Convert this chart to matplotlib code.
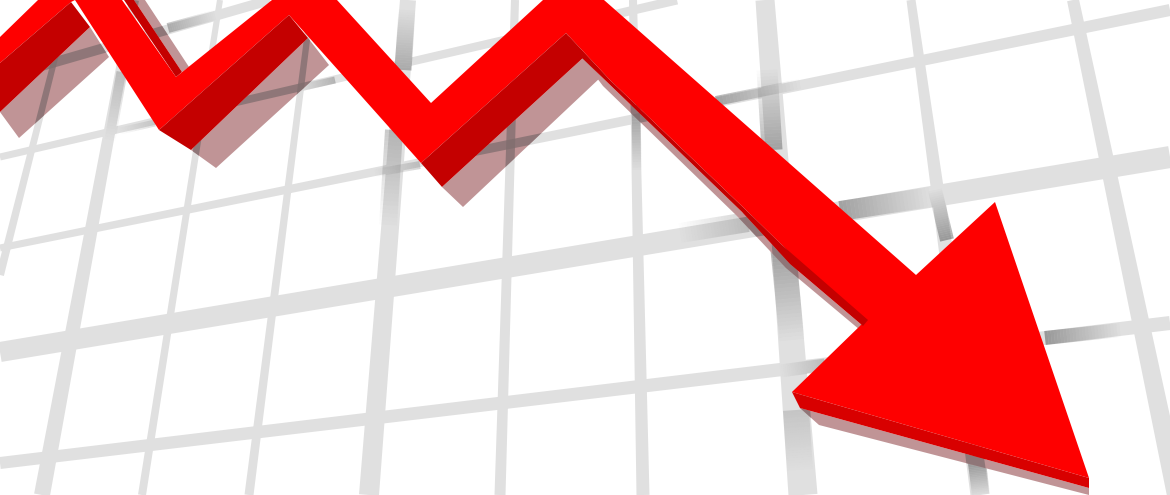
# -*- coding: utf-8 -*-
"""Red zigzag arrow falling across a grey grid seen in perspective."""
import numpy as np
import matplotlib
matplotlib.use("Agg")
import matplotlib.pyplot as plt
from matplotlib.patches import Polygon

W, H = 1170, 495

# grid bars: start x, start y, end x, end y, start width, end width
VERT_X0 = [57, 134, 220, 312, 408, 515, 633, 765, 911, 1073]
VERT_Y0 = [50, 0, 0, 0, 0, 0, 0, 0, 0, 0]
VERT_X1 = [0, 42, 142, 249, 369, 500, 643, 803, 980, 1177]
VERT_Y1 = [275, 495, 495, 495, 495, 495, 495, 495, 495, 495]
VERT_W0 = [6, 10, 6, 6, 16, 8, 8, 19, 9, 12]
VERT_W1 = [8, 16, 8, 9, 20, 11, 13, 29, 19, 20]

HORZ_X0 = [0, 0, 0, 0, 0]
HORZ_Y0 = [78, 157, 248, 352, 463]
HORZ_X1 = [270, 677, 1170, 1170, 1170]
HORZ_Y1 = [0, 0, 10, 157, 323]
HORZ_W0 = [10, 7, 7, 20, 12]
HORZ_W1 = [10, 9, 12, 22, 14]

# soft shade on the bars beside the arrow, dark end first
SHADE_X0 = [716, 772, 783, 840, 748, 947, 976, 1045, 825, 796, 636, 403, 394, 420, 335, 155, 168, 122]
SHADE_Y0 = [101, 150, 250, 211, 222, 240, 455, 338, 365, 410, 105, 70, 130, 165, 80, 123, 28, 72]
SHADE_X1 = [800, 767, 792, 930, 680, 935, 981, 1120, 780, 800, 637, 407, 388, 375, 300, 120, 215, 110]
SHADE_Y1 = [84, 70, 340, 197, 233, 190, 495, 330, 371, 470, 170, 10, 225, 173, 88, 131, 15, 140]
SHADE_W = [10, 21, 25, 20, 20, 14, 18, 14, 13, 26, 9, 17, 18, 8, 7, 7, 10, 11]
SHADE_A = [.35, .35, .35, .35, .2, .4, .5, .4, .2, .15, .4, .3, .25, .2, .25, .15, .3, .2]

# arrow outlines
TOP_X = [0, 38, 122, 176, 272, 337, 431, 543, 604, 916, 995, 1089, 792, 863,
         782, 746, 610, 566, 421, 289, 159, 75, 71, 0]
TOP_Y = [37, 0, 0, 77, 0, 0, 103, 0, 0, 275, 202, 478, 392, 323,
         245, 210, 80, 33, 163, 15, 130, 0, 2, 63]

SIDE_XS = [
    [0, 71, 90, 0],
    [124, 134, 182, 176],
    [159, 191, 308, 289],
    [421, 442, 584, 566],
    [566, 610, 746, 782, 868, 863, 790, 742, 607, 581],
]
SIDE_YS = [
    [63, 2, 27, 112],
    [0, 0, 72, 77],
    [130, 150, 38, 15],
    [163, 187, 57, 33],
    [33, 80, 210, 245, 320, 326, 264, 212, 82, 57],
]
HEAD_SIDE_X = [792, 800, 1089, 1089]
HEAD_SIDE_Y = [392, 408, 488, 478]

SHADOW_XS = [
    [0, 19, 109, 90],
    [134, 145, 189, 182],
    [191, 216, 329, 308],
    [442, 463, 601, 584],
    [581, 607, 742, 790, 863, 860, 786, 737, 603],
    [800, 819, 1089, 1089],
]
SHADOW_YS = [
    [112, 138, 57, 27],
    [0, 0, 67, 72],
    [150, 168, 65, 38],
    [187, 207, 77, 57],
    [57, 82, 212, 264, 326, 330, 268, 216, 86],
    [408, 425, 495, 488],
]

GRID_GREY = "#e0e0e0"
SHADOW_LINE = "#7f6d6e"


def bar_xy(x0, y0, x1, y1, w0, w1):
    # quad around a line that widens from w0 to w1
    d = np.array([x1 - x0, y1 - y0], dtype=float)
    n = np.array([-d[1], d[0]]) / np.hypot(*d)
    a, b = np.array([x0, y0]), np.array([x1, y1])
    return [a + n * w0 / 2, b + n * w1 / 2, b - n * w1 / 2, a - n * w0 / 2]


def all_bars():
    bars = list(zip(HORZ_X0, HORZ_Y0, HORZ_X1, HORZ_Y1, HORZ_W0, HORZ_W1))
    bars += list(zip(VERT_X0, VERT_Y0, VERT_X1, VERT_Y1, VERT_W0, VERT_W1))
    return bars


fig = plt.figure(figsize=(W / 100, H / 100), dpi=100)
ax = fig.add_axes([0, 0, 1, 1])
ax.set_xlim(0, W)
ax.set_ylim(H, 0)
ax.axis("off")
fig.patch.set_facecolor("white")

for bar in all_bars():
    ax.add_patch(Polygon(bar_xy(*bar), fc=GRID_GREY, ec="none", zorder=1))

# shade fades out along the bar in short steps
for x0, y0, x1, y1, w, a in zip(SHADE_X0, SHADE_Y0, SHADE_X1, SHADE_Y1, SHADE_W, SHADE_A):
    steps = 24
    for i in range(steps):
        t0, t1 = i / steps, (i + 1) / steps
        ax.add_patch(Polygon(
            bar_xy(x0 + (x1 - x0) * t0, y0 + (y1 - y0) * t0,
                   x0 + (x1 - x0) * t1, y0 + (y1 - y0) * t1, w, w),
            fc="#303030", ec="none", alpha=a * (1 - t0), zorder=2,
        ))

# cast shadow, with the bars showing darker through it
for xs, ys in zip(SHADOW_XS, SHADOW_YS):
    shadow = Polygon(list(zip(xs, ys)), fc="#c09496", ec="none", zorder=3)
    ax.add_patch(shadow)
    for bar in all_bars():
        dark = Polygon(bar_xy(*bar), fc=SHADOW_LINE, ec="none", alpha=0.75, zorder=4)
        ax.add_patch(dark)
        dark.set_clip_path(shadow)

ax.add_patch(Polygon(list(zip(TOP_X, TOP_Y)), fc="#fe0000", ec="none", zorder=5))
for xs, ys in zip(SIDE_XS, SIDE_YS):
    ax.add_patch(Polygon(list(zip(xs, ys)), fc="#c40000", ec="none", zorder=6))
ax.add_patch(Polygon(list(zip(HEAD_SIDE_X, HEAD_SIDE_Y)), fc="#d80000", ec="none", zorder=6))

fig.savefig("out.png", dpi=100, facecolor="white")
plt.close(fig)
